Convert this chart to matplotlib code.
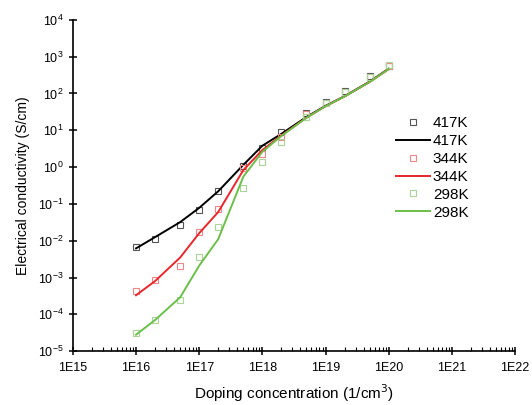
import matplotlib
matplotlib.use("Agg")
from matplotlib import pyplot as plt
import matplotlib.ticker as ticker
import numpy as np

plt.rcParams['font.family'] = ['Liberation Sans', 'DejaVu Sans']

# doping concentrations (1/cm^3)
n_pts = [1e16, 2e16, 5e16, 1e17, 2e17, 5e17, 1e18, 2e18, 5e18, 1e19, 2e19, 5e19, 1e20]

# measured points (squares)
s417 = [0.0066, 0.0114, 0.027, 0.069, 0.22, 1.05, 3.2, 9.0, 30, 58, 115, 290, 560]
s344 = [4.2e-4, 8.5e-4, 0.0021, 0.017, 0.072, 0.93, 2.3, 6.5, 28, 56, 112, 285, 570]
s298 = [3.2e-5, 7e-5, 2.5e-4, 0.0035, 0.023, 0.27, 1.4, 4.9, 23, 54, 110, 280, 600]

# fitted curves (lines)
l417 = [0.0062, 0.0125, 0.032, 0.078, 0.22, 1.15, 3.8, 8.0, 23, 46, 84, 210, 470]
l344 = [3.3e-4, 8.0e-4, 0.0035, 0.016, 0.06, 0.83, 2.9, 7.2, 22, 45, 83, 205, 460]
l298 = [2.8e-5, 7.0e-5, 2.9e-4, 0.0021, 0.011, 0.55, 2.6, 7.0, 22, 45, 83, 205, 460]

labels = ['417K', '344K', '298K']
x_ticks = [1e15, 1e16, 1e17, 1e18, 1e19, 1e20, 1e21, 1e22]
x_labels = ['1E15', '1E16', '1E17', '1E18', '1E19', '1E20', '1E21', '1E22']

fig = plt.figure(figsize=(5.32, 4.05), dpi=100)
ax = fig.add_axes([0.137, 0.133, 0.831, 0.818])

sq_cols = ['#555555', '#ee8888', '#aad49a']
ln_cols = ['black', '#e8262b', '#6cbf4a']
for s, l, lab, sc, lc in zip([s417, s344, s298], [l417, l344, l298], labels, sq_cols, ln_cols):
    ax.plot(n_pts, s, 's', mfc='none', mec=sc, ms=4, mew=0.8, label=lab)
    ax.plot(n_pts, l, '-', color=lc, lw=1.4, label=lab)

ax.set_xscale('log')
ax.set_yscale('log')
ax.set_xlim(1e15, 1e22)
ax.set_ylim(1e-5, 1e4)
ax.set_xticks(x_ticks)
ax.set_xticklabels(x_labels)
ax.set_yticks([10.0**k for k in range(-5, 5)])
ax.yaxis.set_major_formatter(ticker.LogFormatterMathtext())
ax.xaxis.set_minor_locator(ticker.LogLocator(base=10, subs=np.arange(2, 10)))
ax.yaxis.set_minor_locator(ticker.LogLocator(base=10, subs=np.arange(2, 10)))
ax.xaxis.set_minor_formatter(ticker.NullFormatter())
ax.yaxis.set_minor_formatter(ticker.NullFormatter())

ax.spines['top'].set_visible(False)
ax.spines['right'].set_visible(False)
ax.spines['left'].set_linewidth(1.2)
ax.spines['bottom'].set_linewidth(1.2)
ax.tick_params(which='major', direction='inout', length=6, width=1.1, labelsize=9)
ax.tick_params(axis='x', which='major', pad=5)
ax.tick_params(which='minor', direction='in', length=3, width=0.8)

ax.set_xlabel('Doping concentration (1/cm$^3$)', fontsize=11, labelpad=6)
ax.set_ylabel('Electrical conductivity (S/cm)', fontsize=10, labelpad=6)

ax.legend(loc='upper left', bbox_to_anchor=(0.7, 0.75), frameon=False,
          fontsize=11, handlelength=2.2, handletextpad=0.2, labelspacing=0.25)

fig.savefig('out.png', dpi=100)
